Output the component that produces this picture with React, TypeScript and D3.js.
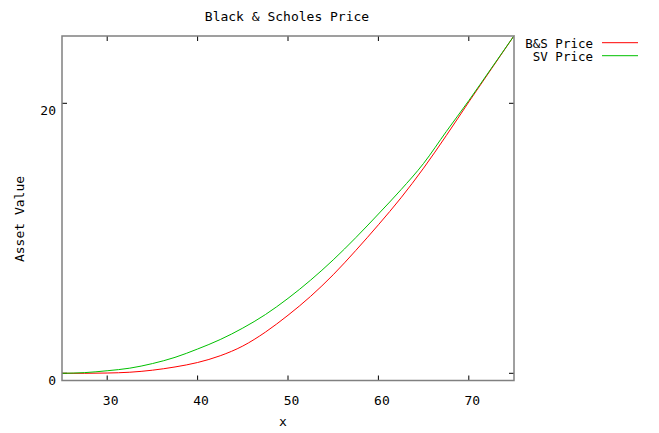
import React from "react";
import * as d3 from "d3";

const xValues = [25, 27.5, 30, 32.5, 35, 37.5, 40, 42.5, 45, 47.5, 50, 52.5, 55, 57.5, 60, 62.5, 65, 67.5, 70, 72.5, 75];
const bsPrice = [0, 0, 0.02, 0.08, 0.23, 0.47, 0.8, 1.3, 2.02, 3.05, 4.3, 5.7, 7.3, 9.1, 11.0, 13.0, 15.2, 17.6, 20.1, 22.55, 25.0];
const svPrice = [0, 0.05, 0.19, 0.38, 0.72, 1.18, 1.8, 2.5, 3.35, 4.35, 5.55, 6.9, 8.4, 10.05, 11.8, 13.6, 15.55, 17.9, 20.2, 22.6, 25.0];
const xTicks = [30, 40, 50, 60, 70];
const yTicks = [0, 20];
const seriesNames = ["B&S Price", "SV Price"];
const seriesColors = ["#ff0000", "#00c000"];

const W = 659, H = 433;
const left = 62, right = 514, top = 36, bottom = 380.5;
const FONT = "'DejaVu Sans Mono', monospace";

export default function App() {
  const x = d3.scaleLinear().domain([25, 75]).range([left, right]);
  const y = d3.scaleLinear().domain([0, 20]).range([373.3, 103.3]);
  const line = d3
    .line<number>()
    .x((_, i) => x(xValues[i]))
    .y((d) => y(d))
    .curve(d3.curveMonotoneX);
  const series = [bsPrice, svPrice];
  return (
    <svg width={W} height={H} style={{ position: "absolute", left: 0, top: 0, background: "#fff" }}>
      <rect x={0} y={0} width={W} height={H} fill="#fff" />
      <text x={287} y={21} textAnchor="middle" fontFamily={FONT} fontSize={13} fill="#000">
        Black &amp; Scholes Price
      </text>
      {xTicks.map((t) => (
        <g key={"x" + t}>
          <line x1={x(t)} x2={x(t)} y1={bottom} y2={bottom - 5} stroke="#000" />
          <line x1={x(t)} x2={x(t)} y1={top} y2={top + 5} stroke="#000" />
          <text x={x(t) + 3.5} y={405} textAnchor="middle" fontFamily={FONT} fontSize={13} fill="#000">
            {t}
          </text>
        </g>
      ))}
      {yTicks.map((t) => (
        <g key={"y" + t}>
          <line x1={left} x2={left + 5} y1={y(t)} y2={y(t)} stroke="#000" />
          <line x1={right} x2={right - 5} y1={y(t)} y2={y(t)} stroke="#000" />
          <text x={56} y={y(t) + 11.5} textAnchor="end" fontFamily={FONT} fontSize={13} fill="#000">
            {t}
          </text>
        </g>
      ))}
      {series.map((s, i) => (
        <path key={i} d={line(s) || ""} fill="none" stroke={seriesColors[i]} strokeWidth={1} />
      ))}
      <rect x={left} y={top} width={right - left} height={bottom - top} fill="none" stroke="#808080" strokeWidth={1.5} />
      <text x={283} y={426} textAnchor="middle" fontFamily={FONT} fontSize={13} fill="#000">
        x
      </text>
      <text
        transform={`translate(24,219) rotate(-90)`}
        textAnchor="middle"
        fontFamily={FONT}
        fontSize={13}
        fill="#000"
      >
        Asset Value
      </text>
      {seriesNames.map((n, i) => (
        <g key={n}>
          <text x={593} y={47.5 + i * 13.5} textAnchor="end" fontFamily={FONT} fontSize={12.5} fill="#000">
            {n}
          </text>
          <line x1={602} x2={638} y1={42.7 + i * 13} y2={42.7 + i * 13} stroke={seriesColors[i]} strokeWidth={1} />
        </g>
      ))}
    </svg>
  );
}
